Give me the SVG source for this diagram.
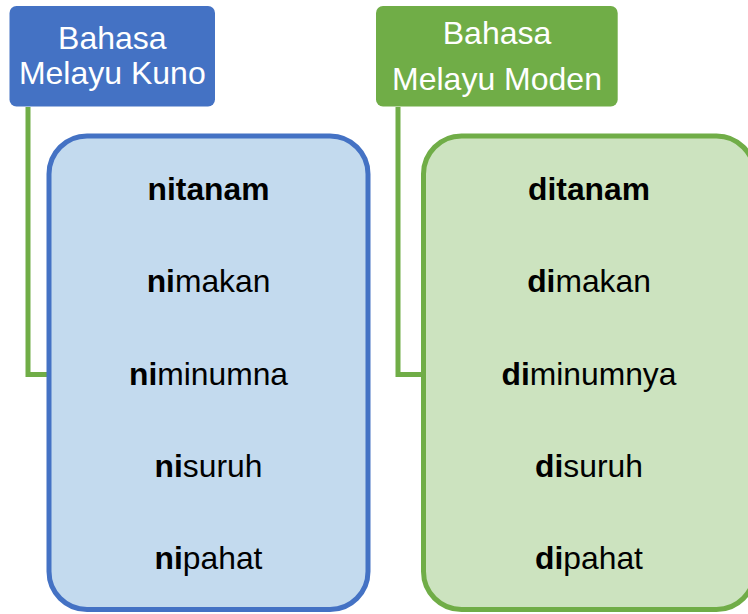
<svg xmlns="http://www.w3.org/2000/svg" width="748" height="614" viewBox="0 0 748 614">
  <style>
    text { font-family: "Liberation Sans", Arial, sans-serif; font-size: 31.5px; text-anchor: middle; }
    .hdr { fill: #ffffff; font-size: 32px; }
    .word { fill: #000000; font-size: 31.8px; }
    .b { font-weight: bold; }
    .link { fill: none; stroke: #70AD47; stroke-width: 5; }
  </style>
  <rect width="748" height="614" fill="#ffffff"/>

  <!-- connectors from the headers to the word panels -->
  <g id="connectors">
    <polyline class="link" points="28,107 28,374.5 49,374.5"/>
    <polyline class="link" points="398,107 398,374.5 423.5,374.5"/>
  </g>

  <g id="header-kuno">
    <rect x="9.5" y="6" width="205.5" height="100.5" rx="7" fill="#4472C4"/>
    <text class="hdr" x="112.3" y="49">Bahasa</text>
    <text class="hdr" x="112.3" y="84">Melayu Kuno</text>
  </g>

  <g id="header-moden">
    <rect x="376" y="6" width="241.7" height="100.5" rx="7" fill="#70AD47"/>
    <text class="hdr" x="497" y="44">Bahasa</text>
    <text class="hdr" x="497" y="90">Melayu Moden</text>
  </g>

  <g id="panel-kuno">
    <rect x="49" y="136" width="319" height="473.5" rx="38" fill="#C3DAEE" stroke="#4472C4" stroke-width="5"/>
    <text class="word" x="208.5" y="199.5"><tspan class="b">nitanam</tspan></text>
    <text class="word" x="208.5" y="292"><tspan class="b">ni</tspan>makan</text>
    <text class="word" x="208.5" y="384.5"><tspan class="b">ni</tspan>minumna</text>
    <text class="word" x="208.5" y="477"><tspan class="b">ni</tspan>suruh</text>
    <text class="word" x="208.5" y="569"><tspan class="b">ni</tspan>pahat</text>
  </g>

  <g id="panel-moden">
    <rect x="423.5" y="136" width="331" height="473.5" rx="38" fill="#CCE3BF" stroke="#70AD47" stroke-width="5"/>
    <text class="word" x="589" y="199.5"><tspan class="b">ditanam</tspan></text>
    <text class="word" x="589" y="292"><tspan class="b">di</tspan>makan</text>
    <text class="word" x="589" y="384.5"><tspan class="b">di</tspan>minumnya</text>
    <text class="word" x="589" y="477"><tspan class="b">di</tspan>suruh</text>
    <text class="word" x="589" y="569"><tspan class="b">di</tspan>pahat</text>
  </g>
</svg>
